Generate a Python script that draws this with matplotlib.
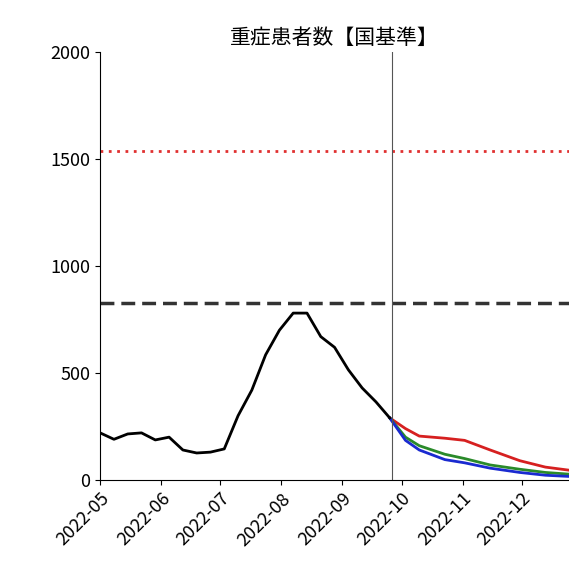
import matplotlib.pyplot as plt
import matplotlib.dates as mdates
import numpy as np
import pandas as pd

plt.rcParams['font.family'] = ['Noto Sans CJK JP', 'DejaVu Sans']

# observed weekly values
obs_dates = pd.date_range("2022-05-01", periods=22, freq="7D")
obs_vals = [220, 190, 215, 220, 187, 200, 140, 126, 130, 145, 300, 420,
            585, 700, 780, 780, 670, 620, 515, 430, 365, 290]

# forecast scenarios
fc_dates = pd.to_datetime(["2022-09-25", "2022-10-03", "2022-10-10", "2022-10-23", "2022-11-02",
                           "2022-11-15", "2022-11-30", "2022-12-13", "2022-12-28"])
fc_red = [290, 240, 205, 195, 185, 140, 90, 60, 42]
fc_green = [290, 200, 160, 120, 100, 70, 50, 35, 25]
fc_blue = [290, 185, 140, 95, 80, 55, 35, 22, 15]

line_red = 1540
line_black = 827
split_date = pd.Timestamp("2022-09-26")

fig = plt.figure(figsize=(5.69, 5.86), dpi=100)
ax = fig.add_axes([0.176, 0.181, 0.824, 0.73])

ax.plot(fc_dates, fc_red, color="#d62020", lw=2)
ax.plot(fc_dates, fc_green, color="#2a8a2a", lw=2)
ax.plot(fc_dates, fc_blue, color="#1a2ad0", lw=2)
ax.plot(obs_dates, obs_vals, color="black", lw=2)
ax.axhline(line_red, color="#e03030", ls=(0, (1, 2)), lw=2)
ax.axhline(line_black, color="#333333", ls=(0, (4, 2)), lw=2.5)
ax.axvline(split_date, color="#555555", lw=0.8)

ax.set_xlim(pd.Timestamp("2022-05-01"), pd.Timestamp("2022-12-25"))
ax.set_ylim(0, 2000)
ax.set_yticks([0, 500, 1000, 1500, 2000])
ax.xaxis.set_major_locator(mdates.MonthLocator())
ax.xaxis.set_major_formatter(mdates.DateFormatter("%Y-%m"))
plt.setp(ax.get_xticklabels(), rotation=45, ha="right", rotation_mode="anchor")
ax.tick_params(labelsize=13)
ax.spines["top"].set_visible(False)
ax.spines["right"].set_visible(False)
ax.set_title("重症患者数【国基準】", fontsize=15)

fig.savefig("out.png", dpi=100)
